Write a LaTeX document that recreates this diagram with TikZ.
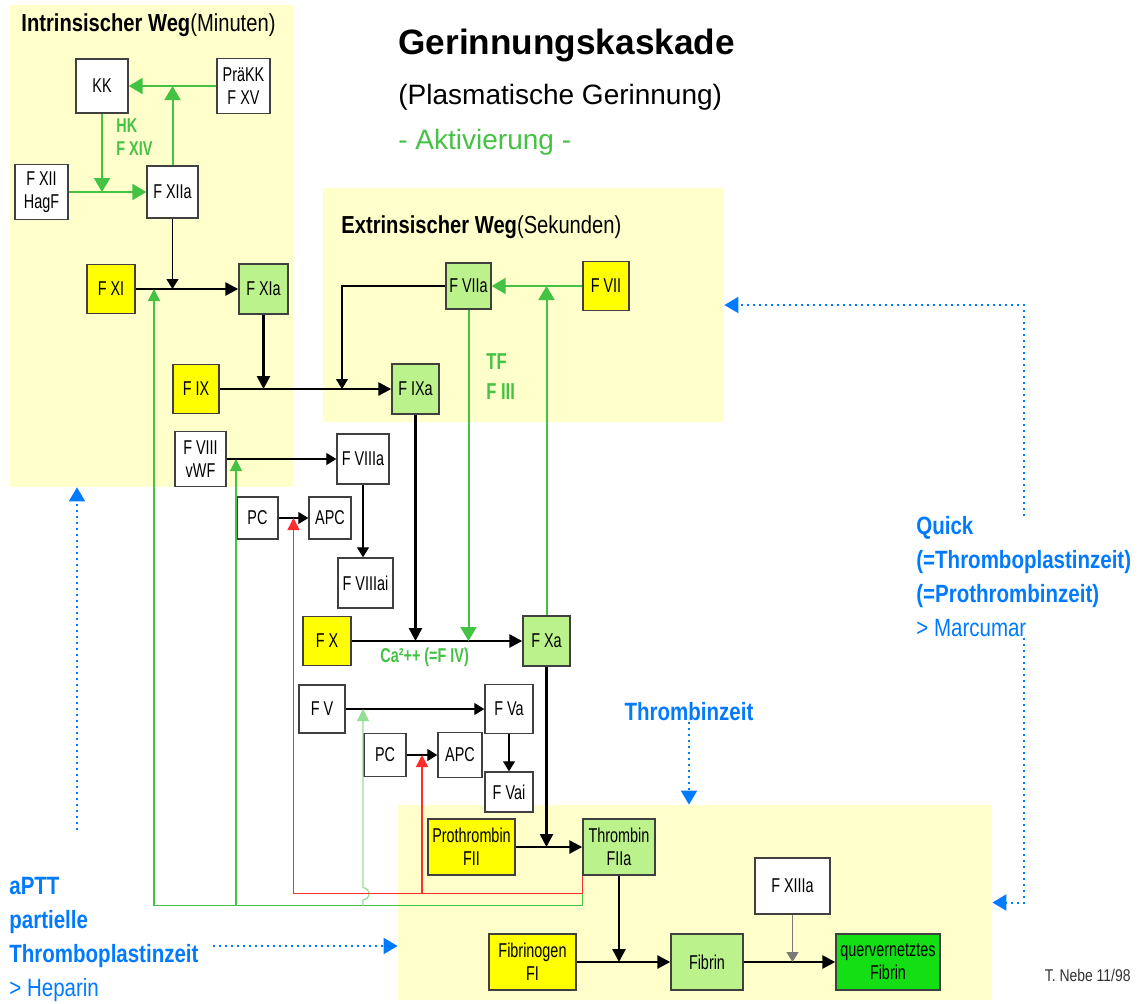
\documentclass[tikz,border=0pt]{standalone}
\usepackage{fontspec}
\setmainfont[FakeStretch=0.82]{Liberation Sans}
\newfontfamily\boxfont[FakeStretch=0.72]{Liberation Sans}
\newfontfamily\titlefont{Liberation Sans}
\usepackage{xcolor}
\usepackage{tikz}
\usetikzlibrary{arrows.meta}
\usetikzlibrary{calc}
\usetikzlibrary{positioning}
\definecolor{zoneyellow}{RGB}{255,255,204}
\definecolor{fyellow}{RGB}{255,255,0}
\definecolor{fgreen}{RGB}{188,242,140}
\definecolor{fbright}{RGB}{20,222,20}
\definecolor{agreen}{RGB}{68,194,68}
\definecolor{lgreen}{RGB}{150,222,150}
\definecolor{ablue}{RGB}{0,122,255}
\definecolor{ared}{RGB}{255,45,45}
\definecolor{fborder}{RGB}{64,64,64}
\tikzstyle{zone}=[rectangle,fill=zoneyellow,inner sep=0pt]
\tikzstyle{factor}=[rectangle,draw=fborder,line width=0.7pt,inner sep=0pt,align=center,font=\boxfont\fontsize{10}{11.5}\selectfont]
\tikzstyle{mainedge} = [draw,line width=1.3pt,-{Triangle[length=6.5pt,width=6.5pt]}]
\tikzstyle{thinedge} = [draw,line width=0.55pt,-{Triangle[length=5pt,width=6pt]}]
\tikzstyle{greenedge} = [draw,agreen,line width=1pt,-{Triangle[length=7pt,width=8pt]}]
\tikzstyle{feedback} = [draw,agreen,line width=0.6pt,-{Triangle[length=6pt,width=6pt]}]
\tikzstyle{redfeedback} = [draw,ared,line width=0.75pt,-{Triangle[length=6pt,width=6pt]}]
\tikzstyle{testedge} = [draw,ablue,line width=1pt,dotted,-{Triangle[length=7pt,width=8pt]}]
\tikzset{lbl/.style={inner sep=0pt},
  testlabel/.style={lbl,ablue,align=left,font=\fontsize{12.5}{17}\selectfont\bfseries}}

\begin{document}
\begin{tikzpicture}[x=0.5pt,y=-0.5pt]

  \def\u{0.5pt};
  \fill[white] (0,0) rectangle (1142,1003);
  \useasboundingbox (0,0) rectangle (1142,1003);

  \foreach \x/\y/\w/\h/\name in {151.5/246/283/482/intr, 523.5/305/401/234/extr, 695/902.5/594/195/gem}
     \node[zone,minimum width=\w*\u,minimum height=\h*\u] (\name) at (\x,\y) {};

  \node[lbl,anchor=west,font=\fontsize{12.3}{14}\selectfont] (intrlabel) at (21,25) {\textbf{Intrinsischer Weg}(Minuten)};
  \node[lbl,anchor=west,font=\fontsize{12.3}{14}\selectfont] (extrlabel) at (341,227) {\textbf{Extrinsischer Weg}(Sekunden)};

  \node[lbl,anchor=west,font=\titlefont\fontsize{17.6}{20}\selectfont\bfseries] (title) at (398,45) {Gerinnungskaskade};
  \node[lbl,anchor=west,font=\titlefont\fontsize{14}{17}\selectfont] (subtitle) at (398,97) {(Plasmatische Gerinnung)};
  \node[lbl,anchor=west,agreen,font=\titlefont\fontsize{14}{17}\selectfont] (aktiv) at (398,142) {- Aktivierung -};

  % white factors
  \foreach \x/\y/\w/\h/\name/\label in {102/86/52/54/kk/KK, 243.5/86/53/55/praekk/{PräKK\\F XV},
      41.5/192/53/55/fxii/{F XII\\HagF}, 172.5/192/51/52/fxiia/F XIIa, 200.5/459/51/55/fviii/{F VIII\\vWF},
      363/459/52/50/fviiia/F VIIIa, 257.5/518/41/42/pca/PC, 330/518/42/42/apca/APC,
      365.5/583/55/50/fviiiai/F VIIIai, 322/709/46/48/fv/F V, 509/709/48/49/fva/F Va,
      385/755/42/43/pcb/PC, 460/755/44/45/apcb/APC, 509/792/48/40/fvai/F Vai, 792.5/886/75/56/fxiiia/F XIIIa}
     \node[factor,fill=white,minimum width=\w*\u,minimum height=\h*\u] (\name) at (\x,\y) {\label};

  % inactive factors
  \foreach \x/\y/\w/\h/\name/\label in {111/289/48/49/fxi/F XI, 196/389/46/49/fix/F IX, 606/286/46/49/fvii/F VII,
      327/641/48/49/fx/F X, 471.5/847/87/56/prothr/{Prothrombin\\FII}, 532.5/962/87/56/fibrinogen/{Fibrinogen\\FI}}
     \node[factor,fill=fyellow,minimum width=\w*\u,minimum height=\h*\u] (\name) at (\x,\y) {\label};

  % activated factors
  \foreach \x/\y/\w/\h/\name/\label in {263.5/289/49/50/fxia/F XIa, 468.5/286/45/46/fviia/F VIIa, 415.5/389/47/50/fixa/F IXa,
      546.5/641/47/50/fxa/F Xa, 619/847/72/56/thrombin/{Thrombin\\FIIa}, 707/962/72/56/fibrin/Fibrin}
     \node[factor,fill=fgreen,minimum width=\w*\u,minimum height=\h*\u] (\name) at (\x,\y) {\label};

  \node[factor,fill=fbright,minimum width=104*\u,minimum height=56*\u] (quer) at (888,962) {quervernetztes\\Fibrin};

  \foreach \source/ \dest in {fxi/fxia, fix/fixa, fx/fxa, prothr/thrombin, fibrinogen/fibrin, fibrin/quer}
         \path[mainedge] (\source) -- (\dest);
  \foreach \source/ \dest in {fxia/fix, fixa/fx, fxa/prothr, thrombin/fibrinogen}
         \path[mainedge] (\source) -- (\source |- \dest);

  \coordinate (kvii) at (342,389);
  \foreach \source/ \dest in {fviii/fviiia, pca/apca, fv/fva, pcb/apcb, fva/fvai}
         \path[thinedge] (\source) -- (\dest);
  \path[thinedge] (fviiia) -- (fviiia |- fviiiai.north);
  \path[thinedge] (fxiia) -- (fxiia |- fxi);
  \path[thinedge] (fviia) -| (kvii);
  \path[thinedge,fborder!70] (fxiiia) -- (fxiiia |- fibrin);

  \foreach \source/ \dest in {praekk/kk, fxii/fxiia, fvii/fviia}
         \path[greenedge] (\source) -- (\dest);
  \path[greenedge] (kk) -- (kk |- fxii);
  \path[greenedge] (fxiia) -- (fxiia |- kk);
  \path[greenedge] (fviia) -- (fviia |- fx);
  \path[greenedge] (fxa) -- (fxa |- fvii);

  % feedback from thrombin
  \coordinate (gxi) at (154,289);
  \coordinate (gviii) at (236,459);
  \coordinate (gv) at (363,709);
  \coordinate (redviii) at ($(pca.east)!.5!(apca.west)$);
  \coordinate (redv) at ($(pcb.east)!.5!(apcb.west)$);
  \path[feedback] (thrombin.south west) -- ++(0,30) coordinate (gc) -| (gxi);
  \path[feedback] (gviii |- gc) -- (gviii);
  \path[feedback,lgreen] (gv |- gc) -- ++(0,-6) arc[start angle=-90,end angle=90,radius=3pt] -- (gv);
  \path[redfeedback] (thrombin.south west) -- ++(0,18) coordinate (rc) -| (redviii);
  \path[redfeedback] (redv |- rc) -- (redv);

  \node[lbl,anchor=west,agreen,align=left,font=\boxfont\fontsize{10}{11.5}\selectfont\bfseries] (hk) at (116,137) {HK\\F XIV};
  \node[lbl,anchor=west,agreen,align=left,font=\boxfont\fontsize{11.5}{15}\selectfont\bfseries] (tf) at (486,377) {TF\\F III};
  \node[lbl,anchor=west,agreen,font=\boxfont\fontsize{10}{11.5}\selectfont\bfseries] (ca) at (380,657) {Ca²++ (=F IV)};

  % tests
  \node[testlabel,anchor=west] (quick) at (916,577) {Quick\\(=Thromboplastinzeit)\\(=Prothrombinzeit)\\\mdseries > Marcumar};
  \node[testlabel] (tz) at (689,712) {Thrombinzeit};
  \node[testlabel,anchor=west] (aptt) at (9,939) {aPTT\\partielle\\Thromboplastinzeit\\\mdseries > Heparin};
  \coordinate (apttr) at (213,946);
  \coordinate (apttu) at (77,830);
  \path[testedge] (quick.north) |- (extr.east);
  \path[testedge] (quick.south) |- (gem.east);
  \path[testedge] (tz) -- (tz |- gem.north);
  \path[testedge] (apttr) -- (apttr -| gem.west);
  \path[testedge] (apttu) -- (apttu |- intr.south);

  \node[lbl,anchor=east,black!80,font=\fontsize{8.5}{10}\selectfont] (sig) at (1131,975) {T. Nebe 11/98};

\end{tikzpicture}
\end{document}
